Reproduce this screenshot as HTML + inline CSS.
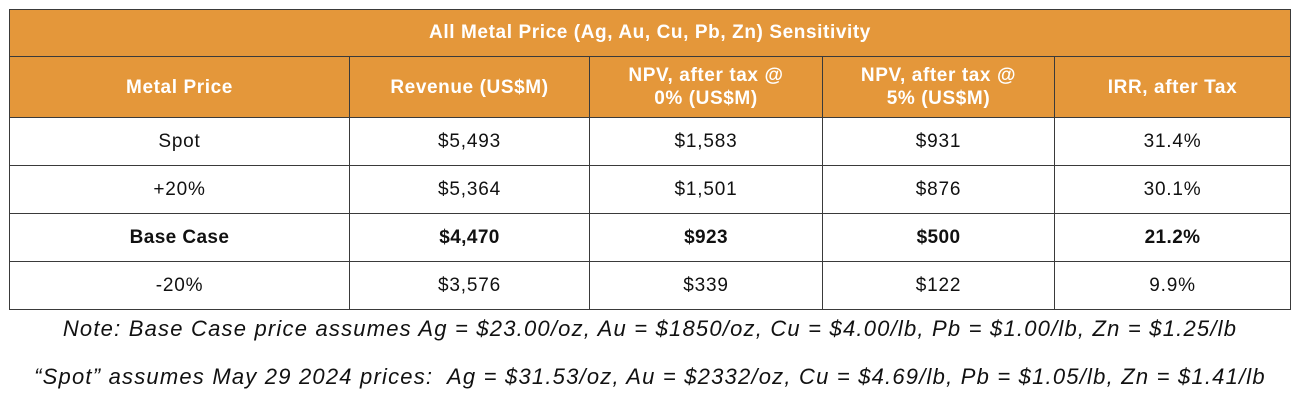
<!DOCTYPE html>
<html><head><style>
body{margin:0;width:1300px;height:401px;background:#fff;font-family:"Liberation Sans",sans-serif;position:relative;overflow:hidden}
table{position:absolute;left:9px;top:9px;border-collapse:collapse;width:1281px;table-layout:fixed}
td{border:1.5px solid #3a3a3a;text-align:center;font-size:19px;letter-spacing:0.8px;color:#111;padding:0}
.o td{background:#E4973A;color:#fff;font-weight:bold;letter-spacing:0.6px}
.t td{height:46px}
.h td{height:60px;line-height:23px}
.r td{height:47px}
.b td{font-weight:bold;letter-spacing:0.4px}
.n{position:absolute;left:0;width:1300px;text-align:center;font-style:italic;font-size:22px;letter-spacing:1.2px;color:#111;white-space:nowrap}
</style></head><body>
<table>
<colgroup><col style="width:340px"><col style="width:240px"><col style="width:233px"><col style="width:232px"><col style="width:236px"></colgroup>
<tr class="o t"><td colspan="5">All Metal Price (Ag, Au, Cu, Pb, Zn) Sensitivity</td></tr>
<tr class="o h"><td>Metal Price</td><td>Revenue (US$M)</td><td>NPV, after tax @<br>0% (US$M)</td><td>NPV, after tax @<br>5% (US$M)</td><td>IRR, after Tax</td></tr>
<tr class="r"><td>Spot</td><td>$5,493</td><td>$1,583</td><td>$931</td><td>31.4%</td></tr>
<tr class="r"><td>+20%</td><td>$5,364</td><td>$1,501</td><td>$876</td><td>30.1%</td></tr>
<tr class="r b"><td>Base Case</td><td>$4,470</td><td>$923</td><td>$500</td><td>21.2%</td></tr>
<tr class="r"><td>-20%</td><td>$3,576</td><td>$339</td><td>$122</td><td>9.9%</td></tr>
</table>
<div class="n" style="top:316px">Note: Base Case price assumes Ag = $23.00/oz, Au = $1850/oz, Cu = $4.00/lb, Pb = $1.00/lb, Zn = $1.25/lb</div>
<div class="n" style="top:364px">“Spot” assumes May 29 2024 prices:&nbsp; Ag = $31.53/oz, Au = $2332/oz, Cu = $4.69/lb, Pb = $1.05/lb, Zn = $1.41/lb</div>
</body></html>
